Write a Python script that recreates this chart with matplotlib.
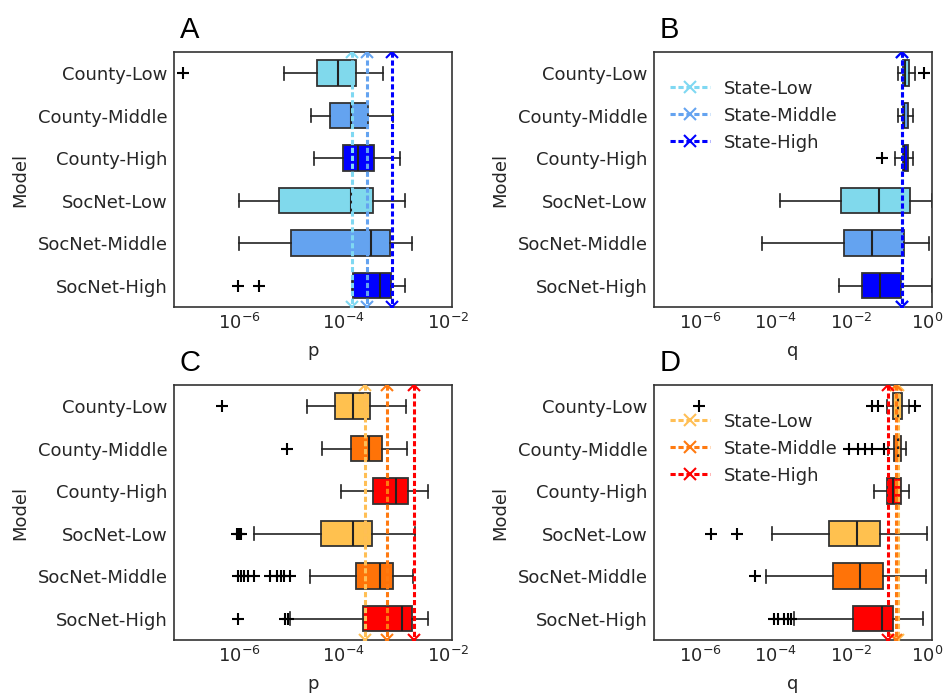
import numpy as np
import matplotlib
matplotlib.use("Agg")
import matplotlib.pyplot as plt
from matplotlib.ticker import LogFormatterSciNotation, NullLocator

models = ["County-Low", "County-Middle", "County-High",
          "SocNet-Low", "SocNet-Middle", "SocNet-High"]
states = ["State-Low", "State-Middle", "State-High"]

# all values below are log10 of the fitted parameter
# panel A: p, blue set
a_whislo = [-5.15, -4.62, -4.58, -6.00, -6.01, -3.84]
a_q1     = [-4.51, -4.27, -4.01, -5.24, -5.01, -3.83]
a_med    = [-4.11, -3.87, -3.72, -3.87, -3.48, -3.31]
a_q3     = [-3.77, -3.53, -3.43, -3.44, -3.11, -3.09]
a_whishi = [-3.25, -3.06, -2.92, -2.83, -2.69, -2.83]
a_fliers = [[-7.07], [], [], [], [], [-6.02, -5.63]]
a_state  = [-3.84, -3.56, -3.08]

# panel B: q, blue set
b_whislo = [-0.76, -0.78, -0.84, -3.89, -4.37, -2.34]
b_q1     = [-0.64, -0.64, -0.64, -2.27, -2.20, -1.73]
b_med    = [-0.58, -0.60, -0.60, -1.27, -1.46, -1.24]
b_q3     = [-0.47, -0.51, -0.50, -0.45, -0.61, -0.70]
b_whishi = [-0.33, -0.36, -0.36, 0.12, 0.04, 0.12]
b_fliers = [[-0.07], [], [-1.18], [], [], []]
b_state  = [-0.65, -0.65, -0.65]

# panel C: p, orange set
c_whislo = [-4.71, -4.41, -4.06, -5.72, -4.65, -5.03]
c_q1     = [-4.17, -3.87, -3.45, -4.44, -3.76, -3.63]
c_med    = [-3.82, -3.51, -3.01, -3.82, -3.30, -2.89]
c_q3     = [-3.50, -3.26, -2.78, -3.46, -3.06, -2.69]
c_whishi = [-2.81, -2.79, -2.38, -2.64, -2.67, -2.38]
c_fliers = [[-6.34], [-5.09], [],
            [-6.04, -6.00, -5.97],
            [-6.02, -5.97, -5.91, -5.84, -5.72, -5.42, -5.28, -5.21, -5.15, -5.03],
            [-6.02, -5.12, -5.07]]
c_state  = [-3.60, -3.17, -2.66]

# panel D: q, orange set
d_whislo = [-1.05, -1.02, -1.39, -4.09, -4.27, -3.53]
d_q1     = [-0.91, -0.87, -1.07, -2.59, -2.49, -1.97]
d_med    = [-0.78, -0.78, -0.91, -1.84, -1.77, -1.20]
d_q3     = [-0.67, -0.70, -0.69, -1.25, -1.17, -0.91]
d_whishi = [-0.49, -0.55, -0.47, 0.00, -0.03, -0.12]
d_fliers = [[-6.02, -1.46, -1.30, -0.31],
            [-2.06, -1.82, -1.64, -1.46, -1.13],
            [],
            [-5.70, -5.03],
            [-4.55],
            [-4.04, -3.93, -3.79, -3.67, -3.60]]
d_state  = [-0.77, -0.83, -1.03]

blue_box = ["#80d9ec", "#64a3f0", "#0000ff"]
blue_line = ["#7fd8f2", "#64a3f0", "#0000ff"]
orange_box = ["#ffc14f", "#ff7308", "#ff0000"]
orange_line = ["#ffbf55", "#ff7a10", "#ff0000"]

text_col = "#262626"
plt.rcParams["font.family"] = "DejaVu Sans"
plt.rcParams["font.size"] = 13


def panel(ax, whislo, q1, med, q3, whishi, fliers, state, boxc, linec,
          xlabel, xlim, xticks, letter, legend):
    ax.set_xscale("log")
    stats = []
    for i in range(len(models)):
        stats.append(dict(whislo=10 ** whislo[i], q1=10 ** q1[i], med=10 ** med[i],
                          q3=10 ** q3[i], whishi=10 ** whishi[i],
                          fliers=10 ** np.array(fliers[i], dtype=float)))
    bp = ax.bxp(stats, positions=range(len(models)), widths=0.6,
                orientation="horizontal", patch_artist=True,
                boxprops=dict(edgecolor="#333333", linewidth=1.3),
                medianprops=dict(color="#222222", linewidth=1.5),
                whiskerprops=dict(color="#222222", linewidth=1.2),
                capprops=dict(color="#222222", linewidth=1.2),
                flierprops=dict(marker="+", markersize=8, markeredgewidth=1.5,
                                markeredgecolor="black", linestyle="none"))
    for k, patch in enumerate(bp["boxes"]):
        patch.set_facecolor(boxc[k % 3])
    for v, c, lab in zip(state, linec, states):
        ax.plot([10 ** v, 10 ** v], [-0.5, 5.5], color=c, lw=2.2,
                ls=(0, (1.7, 0.9)), marker="x", markersize=9,
                markeredgewidth=1.5, label=lab, zorder=5)
    ax.set_ylim(5.5, -0.5)
    ax.set_xlim(10 ** xlim[0], 10 ** xlim[1])
    ax.set_yticks(range(len(models)))
    ax.set_yticklabels(models)
    ax.set_xticks([10.0 ** t for t in xticks])
    ax.xaxis.set_major_formatter(LogFormatterSciNotation())
    ax.xaxis.set_minor_locator(NullLocator())
    ax.tick_params(length=0, pad=4.5, colors=text_col, labelsize=13)
    ax.set_xlabel(xlabel, color=text_col, labelpad=6)
    ax.set_ylabel("Model", color=text_col)
    ax.yaxis.set_label_coords(-0.52, 0.5)
    for s in ax.spines.values():
        s.set_color("#333333")
        s.set_linewidth(1.2)
    ax.text(0.02, 1.03, letter, transform=ax.transAxes, fontsize=21,
            family="Liberation Sans", color="black", va="bottom")
    if legend:
        leg = ax.legend(loc="upper left", bbox_to_anchor=(0.0, 0.955),
                        frameon=False, fontsize=13, handlelength=2.2)
        for t in leg.get_texts():
            t.set_color(text_col)


fig = plt.figure(figsize=(9.45, 6.93), dpi=100)
w, h = 0.2942, 0.368
axA = fig.add_axes([0.1841, 0.557, w, h])
axB = fig.add_axes([0.692, 0.557, w, h])
axC = fig.add_axes([0.1841, 0.0765, w, h])
axD = fig.add_axes([0.692, 0.0765, w, h])

panel(axA, a_whislo, a_q1, a_med, a_q3, a_whishi, a_fliers, a_state,
      blue_box, blue_line, "p", (-7.25, -1.93), [-6, -4, -2], "A", False)
panel(axB, b_whislo, b_q1, b_med, b_q3, b_whishi, b_fliers, b_state,
      blue_box, blue_line, "q", (-7.22, 0.13), [-6, -4, -2, 0], "B", True)
panel(axC, c_whislo, c_q1, c_med, c_q3, c_whishi, c_fliers, c_state,
      orange_box, orange_line, "p", (-7.25, -1.93), [-6, -4, -2], "C", False)
panel(axD, d_whislo, d_q1, d_med, d_q3, d_whishi, d_fliers, d_state,
      orange_box, orange_line, "q", (-7.22, 0.13), [-6, -4, -2, 0], "D", True)

fig.savefig("out.png", dpi=100)
